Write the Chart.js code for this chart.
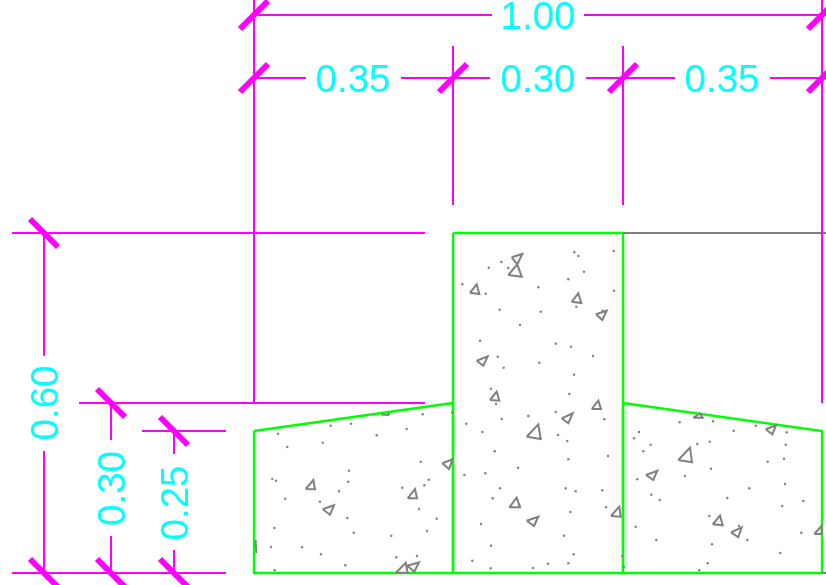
<!DOCTYPE html>
<html>
<head>
<meta charset="utf-8">
<title>Footing section</title>
<script src="https://cdn.jsdelivr.net/npm/chart.js@4/dist/chart.umd.min.js"></script>
<style>
  html, body { margin: 0; padding: 0; background: #fff; overflow: hidden; }
  canvas { display: block; }
</style>
</head>
<body>
<canvas id="section" width="826" height="585"></canvas>
<script>
// everything is in sheet units, y going down
var sheetWidth = 826;
var sheetHeight = 585;

// dimension text: label, x, y, angle
var dimLabels = ['1.00', '0.35', '0.30', '0.35', '0.60', '0.30', '0.25'];
var dimLabelX = [538, 353, 538, 722, 44, 111, 174];
var dimLabelY = [15, 78, 78, 78, 403, 488.5, 503];
var dimLabelAngle = [0, 0, 0, 0, -90, -90, -90];

// thin dimension lines [x1, y1, x2, y2]
var dimLines = [
  [254, 15, 492, 15], [584, 15, 826, 15],
  [254, 78, 306, 78], [401, 78, 490, 78], [586, 78, 675, 78], [770, 78, 826, 78],
  [254, 0, 254, 403], [822, 0, 822, 403],
  [453, 46, 453, 205], [623, 46, 623, 205],
  [12, 233, 425, 233], [79, 403, 425, 403], [142, 431, 226, 431], [12, 573, 226, 573],
  [44, 233, 44, 355.7], [44, 451, 44, 573],
  [111, 403, 111, 440], [111, 536, 111, 573],
  [174, 431, 174, 454], [174, 550, 174, 573]
];

// heavy dimension ticks
var dimTicks = [
  [240, 29, 268, 1], [808, 29, 836, 1],
  [240, 92, 268, 64], [439, 92, 467, 64], [609, 92, 637, 64], [808, 92, 836, 64],
  [30, 219, 58, 247], [97, 389, 125, 417], [160, 417, 188, 445],
  [30, 559, 58, 587], [97, 559, 125, 587], [160, 559, 188, 587]
];

// concrete outline
var columnOutline = [[453, 233], [623, 233], [623, 573], [453, 573], [453, 233]];
var leftFooting = [[254, 431], [453, 403], [453, 573], [254, 573], [254, 431]];
var rightFooting = [[623, 403], [822, 431], [822, 573], [623, 573], [623, 403]];

// grey odds and ends
var greyLines = [
  [623, 233, 826, 233], [822, 573, 826, 573], [255.7, 540, 256.3, 553],
  [381, 414.5, 389, 415], [389, 415, 389, 413]
];

// hatch triangles, three corners each
var aggregates = [
  [511.7, 257.3, 522.3, 254, 517.3, 264.3],
  [508.3, 275, 517.3, 264.3, 521.7, 276.7],
  [470, 292.7, 476.7, 284.3, 479.3, 294],
  [571.7, 301.7, 578.3, 293.3, 581.3, 303],
  [596, 314.3, 606.7, 310.7, 602.3, 320],
  [476.7, 360.7, 487.7, 356.3, 483.3, 365.7],
  [490, 400, 496.7, 391.7, 499.3, 400.7],
  [591.7, 409, 598.3, 400.7, 601, 409],
  [561.7, 418.3, 572.7, 413.3, 568.3, 423.3],
  [526.7, 436.7, 538.3, 424.3, 540.7, 439],
  [442.3, 463.3, 452.7, 459.3, 449, 469],
  [509.3, 507.3, 516.7, 497.7, 520, 507.3],
  [526.7, 520.7, 538.3, 516.7, 534, 526],
  [611, 516, 619.3, 506.7, 620.7, 516.7],
  [305.7, 489, 313.3, 480, 315, 489.3],
  [322.7, 509.3, 334, 505.3, 330, 514.7],
  [407.7, 498.3, 415, 489, 417, 498.3],
  [395.7, 573, 405.7, 562.7, 407.7, 573],
  [407.3, 565.7, 419, 562.3, 414.3, 571.7],
  [693.3, 417.7, 702.7, 417.7, 700, 413.5],
  [765.7, 429.3, 776, 425.3, 772.3, 434.3],
  [678.3, 460, 690, 447.7, 692, 462.3],
  [646, 475, 657.3, 470.7, 653.3, 480],
  [712.7, 524.3, 720, 515.7, 722.7, 525.3],
  [731, 532.3, 741.7, 527.3, 738.3, 537.3],
  [814.3, 534, 821.7, 525.7, 821.7, 534]
];

// hatch dots
var columnDots = [
  [488.7, 267.7], [501.3, 262], [508.3, 268], [462.3, 284.3], [485.7, 293.7], [499.7, 309.7],
  [520, 325], [538.3, 287.3], [540.7, 311.7], [574.3, 252.3], [578.3, 256], [613.7, 251],
  [584, 271.7], [568.3, 279.3], [614, 290.7], [576.3, 306.7], [602.7, 310.7], [480, 340.7],
  [555.7, 343.7], [571, 346.7], [593, 356], [497.7, 356.7], [503.7, 367.7], [539.3, 362.7],
  [574, 374.7], [491, 388.7], [569.3, 394], [496, 404], [466.3, 423.7], [482.3, 432],
  [501.7, 419], [528.3, 416], [555.7, 412], [604.3, 419.3], [558, 435], [567.3, 441],
  [494.7, 451.3], [568.3, 459.3], [608, 456], [518, 467.7], [464.3, 475], [485.3, 473.3],
  [500, 488.3], [565.7, 488.3], [575.7, 491.3], [602.3, 490.3], [492.7, 498.3], [519.3, 505],
  [606, 507.3], [570.3, 512], [481, 524], [564, 535.7], [491, 545.7], [573.7, 554.3],
  [472.3, 560.7], [490.7, 568.3], [533, 568], [548, 563.7], [568.3, 563.3], [622.3, 556], [624, 567]
];
var leftDots = [
  [422.7, 414.3], [452.3, 412.7], [351, 423.7], [330.7, 425.7], [406.7, 429], [376.7, 435.3],
  [278, 433.7], [322.7, 442.7], [287.3, 447], [420.7, 461.7], [349, 470.7], [272.3, 479],
  [276, 480.7], [348.3, 481.7], [428.7, 479.7], [424.3, 485.3], [402.3, 487.7], [339, 491.3],
  [285.3, 498.7], [320, 501.7], [419, 509], [347.3, 518], [436.7, 518.7], [274.3, 528],
  [353.7, 532.7], [427, 531], [391.3, 535.7], [271, 547], [302, 547.3], [321, 554.3],
  [396.3, 557.3], [417, 556], [345.3, 565.3], [274.7, 570.3]
];
var rightDots = [
  [679.7, 422.3], [713, 421.3], [733.7, 430.7], [755.7, 425.7], [786.7, 432.3], [639, 432],
  [634, 438.3], [650.7, 444.7], [643.3, 451.3], [697.3, 444], [709.7, 441.7], [785.7, 444.7],
  [784, 458.7], [767.7, 461.7], [711, 468.7], [685, 476], [637.3, 479.3], [785, 484],
  [749.3, 488.3], [651.3, 494.7], [659.7, 500], [727.3, 498], [803.3, 501], [782.3, 506],
  [709.3, 516], [635.7, 526.7], [739, 526], [801.3, 532.7], [656.3, 540], [747.3, 540],
  [712, 544.3], [780.3, 553], [707.7, 563.3], [699.3, 570.3]
];

// turns [x1,y1,x2,y2] rows into one broken line
function segments(rows) {
  var pts = [];
  rows.forEach(function (r) {
    pts.push({ x: r[0], y: r[1] }, { x: r[2], y: r[3] }, { x: null, y: null });
  });
  return pts;
}

function closedTriangles(rows) {
  var pts = [];
  rows.forEach(function (t) {
    pts.push({ x: t[0], y: t[1] }, { x: t[2], y: t[3] }, { x: t[4], y: t[5] }, { x: t[0], y: t[1] }, { x: null, y: null });
  });
  return pts;
}

function outline(rows) {
  return rows.map(function (p) { return { x: p[0], y: p[1] }; });
}

function lineSet(label, data, color, width) {
  return {
    label: label, data: data, showLine: true, spanGaps: false, tension: 0,
    borderColor: color, borderWidth: width, pointRadius: 0, borderJoinStyle: 'miter'
  };
}

var MAGENTA = '#ff00ff', GREEN = '#00ff00', GREY = '#808080', CYAN = '#00ffff';

// dimension text goes through the same scales as the lines
var dimText = {
  id: 'dimText',
  afterDatasetsDraw: function (chart) {
    var ctx = chart.ctx;
    ctx.save();
    ctx.fillStyle = CYAN;
    ctx.font = '38.5px "Liberation Sans"';
    ctx.textAlign = 'center';
    ctx.textBaseline = 'middle';
    dimLabels.forEach(function (txt, i) {
      ctx.save();
      ctx.translate(chart.scales.x.getPixelForValue(dimLabelX[i]), chart.scales.y.getPixelForValue(dimLabelY[i]));
      ctx.rotate(dimLabelAngle[i] * Math.PI / 180);
      ctx.fillText(txt, 0, 3);
      ctx.restore();
    });
    ctx.restore();
  }
};

new Chart(document.getElementById('section').getContext('2d'), {
  type: 'scatter',
  data: {
    datasets: [
      lineSet('dimension lines', segments(dimLines), MAGENTA, 2),
      lineSet('dimension ticks', segments(dimTicks), MAGENTA, 6),
      lineSet('grey lines', segments(greyLines), GREY, 2),
      lineSet('aggregate', closedTriangles(aggregates), GREY, 2),
      {
        label: 'hatch dots',
        data: outline(columnDots.concat(leftDots, rightDots)),
        pointRadius: 1.2, pointBorderWidth: 0, pointBackgroundColor: GREY, showLine: false
      },
      lineSet('column', outline(columnOutline), GREEN, 2.4),
      lineSet('left footing', outline(leftFooting), GREEN, 2.4),
      lineSet('right footing', outline(rightFooting), GREEN, 2.4)
    ]
  },
  options: {
    responsive: false,
    animation: false,
    layout: { padding: 0, autoPadding: false },
    plugins: { legend: { display: false }, tooltip: { enabled: false } },
    scales: {
      x: { type: 'linear', display: false, min: 0, max: sheetWidth },
      y: { type: 'linear', display: false, min: 0, max: sheetHeight, reverse: true }
    }
  },
  plugins: [dimText]
});
</script>
</body>
</html>
